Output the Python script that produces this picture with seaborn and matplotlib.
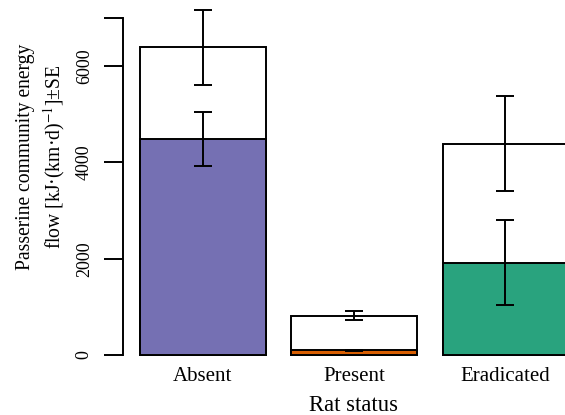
import matplotlib
matplotlib.use('Agg')
import matplotlib.pyplot as plt
import numpy as np
import pandas as pd
import seaborn as sns

# values
status = ['Absent', 'Present', 'Eradicated']
total_flow = [6390, 820, 4390]
total_se = [785, 100, 990]
part_flow = [4490, 95, 1920]
part_se = [560, 12, 875]
bar_colors = ['#7570B3', '#D95F02', '#29A37E']

df = pd.DataFrame({'status': status, 'total': total_flow, 'total_se': total_se,
                   'part': part_flow, 'part_se': part_se})

sns.set_style('ticks')
plt.rcParams['font.family'] = ['Liberation Serif', 'DejaVu Serif']
plt.rcParams['mathtext.fontset'] = 'stix'

fig = plt.figure(figsize=(5.65, 4.15), dpi=100)
ax = fig.add_axes([0.2172, 0.1376, 0.7828, 0.8598])

# white bars = total, coloured bars = part of it
sns.barplot(data=df, x='status', y='total', color='white', edgecolor='black',
            linewidth=1.4, width=0.83, errorbar=None, saturation=1, ax=ax)
sns.barplot(data=df, x='status', y='part', hue='status', palette=bar_colors,
            edgecolor='black', linewidth=1.4, width=0.83, errorbar=None,
            saturation=1, legend=False, ax=ax)

x = np.arange(len(status))
ax.errorbar(x, df['total'], yerr=df['total_se'], fmt='none', ecolor='black',
            elinewidth=1.4, capsize=6.4, capthick=1.4, zorder=5)
ax.errorbar(x, df['part'], yerr=df['part_se'], fmt='none', ecolor='black',
            elinewidth=1.4, capsize=6.4, capthick=1.4, zorder=5)

ax.set_xlim(-0.53, 2.394)
ax.set_ylim(-60, 7350)

ax.set_yticks([0, 2000, 4000, 6000, 7000])
ax.set_yticklabels(['0', '2000', '4000', '6000', ''])
ax.tick_params(axis='y', length=13.5, width=1.4, pad=8, labelsize=13,
               labelrotation=90, color='black', labelcolor='black')
for lab in ax.get_yticklabels():
    lab.set_verticalalignment('center')
ax.tick_params(axis='x', length=0, pad=6.5, labelsize=15, labelcolor='black')

for s in ['top', 'right', 'bottom']:
    ax.spines[s].set_visible(False)
ax.spines['left'].set_bounds(0, 7000)
ax.spines['left'].set_linewidth(1.4)
ax.spines['left'].set_color('black')

ax.set_xlabel('Rat status', fontsize=16.3, color='black')
ax.xaxis.set_label_coords(0.521, -0.104)
ax.set_ylabel('Passerine community energy\nflow [kJ·(km·d)$^{-1}$]±SE',
              fontsize=14.1, color='black', linespacing=1.3)
ax.yaxis.label.set_verticalalignment('center')
ax.yaxis.label.set_rotation_mode('default')
ax.yaxis.set_label_coords(-0.184, 0.563)

fig.savefig('out.png', dpi=100)
